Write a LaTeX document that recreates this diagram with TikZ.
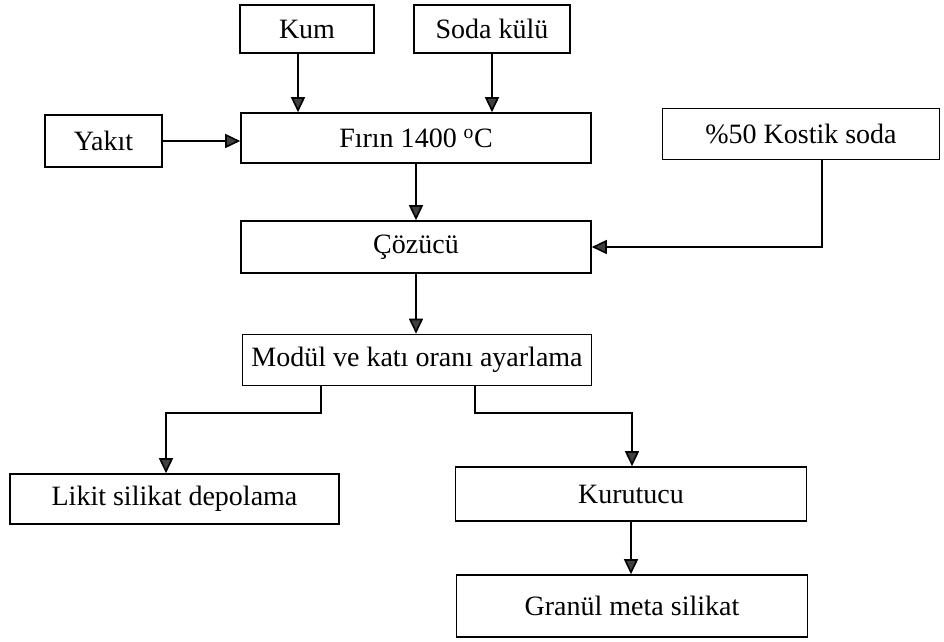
\documentclass[tikz,border=0pt]{standalone}
\usepackage{fontspec}
\setmainfont{Liberation Serif}
\usetikzlibrary{arrows.meta}

\begin{document}
\begin{tikzpicture}[x=1pt,y=1pt,line width=1.6pt,>={Triangle[length=15pt,width=14pt,fill=black!75]},
    box/.style={draw,rectangle,inner sep=0pt,font=\fontsize{28}{33}\selectfont},
    arr/.style={->,shorten >=0pt}]

            \useasboundingbox (0,0) rectangle (944,641);

            \node[box,minimum width=134,minimum height=48] (kum) at (307,612) {Kum};
            \node[box,minimum width=156,minimum height=48] (soda) at (492,612) {Soda külü};
            \node[box,minimum width=350,minimum height=50] (firin) at (416,503) {Fırın 1400 \textsuperscript{o}C};
            \node[box,minimum width=117,minimum height=52] (yakit) at (103.5,500) {Yakıt};
            \node[box,minimum width=277,minimum height=51] (kostik) at (801,507) {\%50 Kostik soda};
            \node[box,minimum width=350,minimum height=52] (cozucu) at (416,394) {Çözücü};
            \node[box,minimum width=349,minimum height=51] (modul) at (417,281) {Modül ve katı oranı ayarlama};
            \node[box,minimum width=329,minimum height=50] (likit) at (174.5,142) {Likit silikat depolama};
            \node[box,minimum width=351,minimum height=54] (kurutucu) at (631,147) {Kurutucu};
            \node[box,minimum width=351,minimum height=62] (granul) at (632,35) {Granül meta silikat};

            \coordinate (lbend) at (166,228);
            \coordinate (rbend) at (632,228);

            \draw[arr] ([xshift=-9pt]kum.south) -- ([xshift=-9pt]kum.south |- firin.north);
            \draw[arr] (soda.south) -- (soda.south |- firin.north);
            \draw[arr] (yakit.east) -- (yakit.east -| firin.west);
            \draw[arr] (firin.south) -- (cozucu.north);
            \draw[arr] ([xshift=21pt]kostik.south) |- (cozucu.east);
            \draw[arr] (cozucu.south) -- (cozucu.south |- modul.north);
            \draw[arr] ([xshift=-96pt]modul.south) |- (lbend) -- (lbend |- likit.north);
            \draw[arr] ([xshift=58pt]modul.south) |- (rbend) -- (rbend |- kurutucu.north);
            \draw[arr] (kurutucu.south) -- (kurutucu.south |- granul.north);
        \end{tikzpicture}
\end{document}
